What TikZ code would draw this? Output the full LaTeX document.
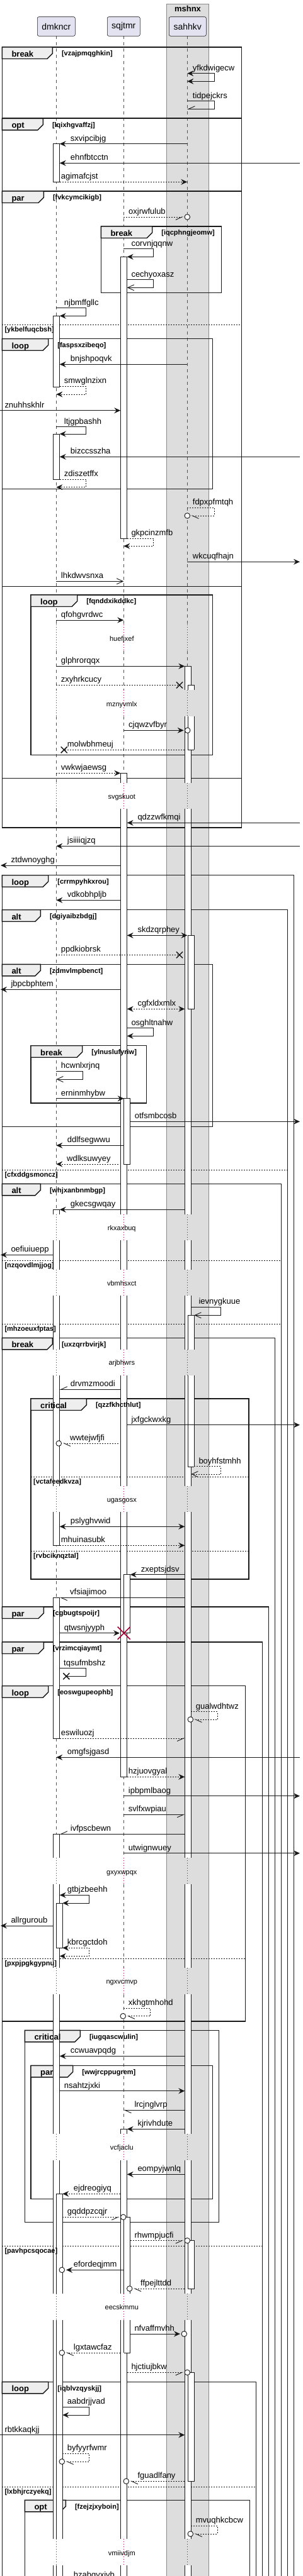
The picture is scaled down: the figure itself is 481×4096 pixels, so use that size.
\documentclass[tikz,border=0pt]{standalone}
\usepackage{fontspec}
\setmainfont{Liberation Sans}
\usetikzlibrary{arrows.meta}
\pgfdeclarelayer{band}
\pgfdeclarelayer{life}
\pgfdeclarelayer{frames}
\pgfdeclarelayer{bars}
\pgfsetlayers{band,life,frames,bars,main}
\definecolor{ink}{HTML}{181818}
\definecolor{partfill}{HTML}{E2E2F0}
\definecolor{tabfill}{HTML}{EEEEEE}
\definecolor{boxfill}{HTML}{DDDDDD}
\definecolor{boxline}{HTML}{8A8A8A}
\definecolor{delayred}{HTML}{A80036}
\tikzset{
 part/.style={draw=ink,fill=partfill,line width=0.6pt,rounded corners=2.5pt,minimum height=30.6pt,inner sep=0pt,font=\fontsize{14}{16}\selectfont},
 boxt/.style={anchor=base,inner sep=0pt,font=\bfseries\fontsize{13}{15}\selectfont},
 lifel/.style={draw=ink!75,line width=0.7pt,dash pattern=on 5pt off 5pt},
 delayl/.style={draw=delayred,line width=0.8pt,dash pattern=on 1pt off 3pt},
 frm/.style={draw=ink,line width=1.4pt},
 sepl/.style={draw=ink,line width=0.8pt,dash pattern=on 2pt off 2pt},
 tabl/.style={anchor=base west,inner sep=0pt,font=\bfseries\fontsize{13}{15}\selectfont},
 condl/.style={anchor=base west,inner sep=0pt,font=\bfseries\fontsize{11}{13}\selectfont},
 dly/.style={anchor=base,inner sep=0pt,font=\fontsize{11}{13}\selectfont},
 lbl/.style={anchor=base west,inner sep=0pt,font=\fontsize{13}{15}\selectfont},
 actl/.style={draw=ink,line width=0.9pt},
 circ/.style={circle,draw=ink,fill=white,line width=0.9pt,minimum size=8.6pt,inner sep=0pt},
 xmk/.style={draw=ink,line width=1.5pt},
 msgline/.style={draw=ink,line width=0.9pt},
 dsh/.style={dash pattern=on 2pt off 2pt},
 fa/.style={-{Stealth[length=10pt,width=9pt,inset=3.5pt]}},
 ba/.style={{Stealth[length=10pt,width=9pt,inset=3.5pt]}-{Stealth[length=10pt,width=9pt,inset=3.5pt]}},
 oa/.style={-{Straight Barb[length=10pt,width=9pt]}},
 hL/.style={-{Straight Barb[harpoon,length=10pt,width=9pt]}},
 hR/.style={-{Straight Barb[harpoon,swap,length=10pt,width=9pt]}},
}
% message: name, x1, x2, y, style, label, label x
\newcommand\Msg[7]{%
 \coordinate (#1s) at (#2,#4);
 \coordinate (#1e) at (#3,#4);
 \draw[msgline,#5] (#1s) -- (#1e);
 \node[lbl] (#1l) at (#7,#4-4.5) {#6};}
% self message: name, xs, xr, yt, yb, xe, style, label, label x
\newcommand\Self[9]{%
 \coordinate (#1s) at (#2,#4);
 \coordinate (#1a) at (#3,#4);
 \coordinate (#1b) at (#3,#5);
 \coordinate (#1e) at (#6,#5);
 \draw[msgline,#7] (#1s) -- (#1a) -- (#1b) -- (#1e);
 \node[lbl] (#1l) at (#9,#4-4.5) {#8};}
\newcommand\Circ[3]{\node[circ] (#1) at (#2,#3) {};}
\newcommand\Xm[3]{\coordinate (#1) at (#2,#3);
 \draw[xmk] (#2-5,#3-5) -- (#2+5,#3+5) (#2-5,#3+5) -- (#2+5,#3-5);}
% activation bars
\newcommand\acO[4]{\begin{pgfonlayer}{bars}\fill[white] (#1,#3) rectangle (#2,#4);
 \draw[actl] (#1,#3) -- (#1,#4) (#2,#3) -- (#2,#4);\end{pgfonlayer}}
\newcommand\acT[4]{\acO{#1}{#2}{#3}{#4}\begin{pgfonlayer}{bars}\draw[actl] (#1,#3) -- (#2,#3);\end{pgfonlayer}}
\newcommand\acB[4]{\acO{#1}{#2}{#3}{#4}\begin{pgfonlayer}{bars}\draw[actl] (#1,#4) -- (#2,#4);\end{pgfonlayer}}
\newcommand\acC[4]{\begin{pgfonlayer}{bars}\filldraw[fill=white,actl] (#1,#3) rectangle (#2,#4);\end{pgfonlayer}}
% fragment: name, x1, y1, x2, y2, tab right, label, condition
\newcommand\Frag[8]{%
 \begin{pgfonlayer}{frames}
  \draw[frm] (#2,#3) rectangle (#4,#5);
  \filldraw[frm,fill=tabfill] (#2,#3) -- (#6,#3) -- (#6,#3+10) -- (#6-8.5,#3+18.5) -- (#2,#3+18.5) -- cycle;
 \end{pgfonlayer}
 \node[tabl] (#1t) at (#2+15,#3+15.5) {#7};
 \node[condl] (#1c) at (#6+14.5,#3+13.8) {#8};}
\newcommand\Sep[5]{%
 \begin{pgfonlayer}{frames}\draw[sepl] (#2,#4) -- (#3,#4);\end{pgfonlayer}
 \node[condl] (#1) at (#2+4,#4+11.5) {#5};}
\begin{document}
\begin{tikzpicture}[x=1pt,y=-1pt]
\useasboundingbox (0,0) rectangle (481,4096);
\begin{pgfonlayer}{band}
\filldraw[fill=boxfill,draw=boxline,line width=0.8pt] (264.3,6) rectangle (331.7,4110);
\end{pgfonlayer}
\node[boxt] (mshnx) at (298,18.3) {mshnx};
\node[part,minimum width=60pt] (dmkncr) at (89.3,42) {dmkncr};
\node[part,minimum width=52pt] (sqjtmr) at (196.3,42) {sqjtmr};
\node[part,minimum width=59pt] (sahhkv) at (297.8,42) {sahhkv};
% lifelines
\begin{pgfonlayer}{life}
\foreach \lx in {89.3,196.3,297.3}{
 \foreach \a/\b in {57.3/993,1035/1097.3,1139/1245,1285.7/1931,1972.3/2019.3,2060/2145.7,2186.7/2362.7,2404/2954.3,2996/3129.3,3171/3393.3,3435/3647.3,3689.3/4037.3,4079/4110}{\draw[lifel] (\lx,\a) -- (\lx,\b);}
 \foreach \a/\b in {993/1035,1097.3/1139,1245/1285.7,1931/1972.3,2019.3/2060,2145.7/2186.7,2362.7/2404,2954.3/2996,3129.3/3171,3393.3/3435,3647.3/3689.3,4037.3/4079}{\draw[delayl] (\lx,\a) -- (\lx,\b);}
}
\end{pgfonlayer}
% delay texts
\node[dly] (d1) at (193.3,1019.5) {huefjxef};
\node[dly] (d2) at (193.3,1123.1) {mznyvmlx};
\node[dly] (d3) at (193.3,1270.5) {svgskuot};
\node[dly] (d4) at (193.3,1956.1) {rkxaxbuq};
\node[dly] (d5) at (193.3,2044.3) {vbmhsxct};
\node[dly] (d6) at (193.3,2170.8) {arjbhwrs};
\node[dly] (d7) at (193.3,2388.1) {ugasgosx};
\node[dly] (d8) at (193.3,2980.5) {gxyxwpqx};
\node[dly] (d9) at (193.3,3154.8) {ngxvcmvp};
\node[dly] (d10) at (193.3,3418.8) {vcfjaclu};
\node[dly] (d11) at (193.3,3672.8) {eecskmmu};
\node[dly] (d12) at (193.3,4063.1) {vmiivdjm};
% fragments
\Frag{f1}{3.3}{75}{383.3}{187.7}{83.3}{break}{[vzajpmqghkin]}
\Frag{f2}{3.3}{188.3}{383.3}{304}{68.3}{opt}{[lqixhgvaffzj]}
\Frag{f3}{3.3}{304}{383.3}{932.7}{69.3}{par}{[fvkcymcikigb]}
\Sep{s1}{3.3}{383.3}{516.3}{[ykbelfuqcbsh]}
\Frag{f3a}{160.3}{360}{351.7}{465.7}{241.7}{break}{[iqcphngjeomw]}
\Frag{f3b}{3.3}{538.7}{337.7}{777.3}{76.7}{loop}{[faspsxzibeqo]}
\begin{pgfonlayer}{frames}
\draw[frm] (3.3,932.7) rectangle (383.3,1237.3);
\draw[frm] (3.3,1237.3) rectangle (383.3,1316);
\end{pgfonlayer}
\Frag{f4a}{49}{946}{337.7}{1200.3}{122.7}{loop}{[fqnddxikddkc]}
\Frag{f6}{3.3}{1391.7}{466.7}{4110}{76.7}{loop}{[crrmpyhkxrou]}
\Frag{f6a}{3.3}{1446.7}{456.7}{4110}{64.3}{alt}{[dgiyaibzbdgj]}
\Sep{s2}{3.3}{456.7}{1860.3}{[cfxddgsmoncz]}
\Frag{f6b}{3.3}{1533.3}{337.7}{1791.7}{64.3}{alt}{[zdmvlmpbenct]}
\Frag{f6c}{49}{1662.7}{232.3}{1754}{130.7}{break}{[ylnuslufyriw]}
\Frag{f7}{3.3}{1882.3}{446.7}{4110}{64.3}{alt}{[whjxanbnmbgp]}
\Sep{s3}{3.3}{446.7}{2004.3}{[nzqovdlmjjog]}
\Sep{s4}{3.3}{446.7}{2105.3}{[mhzoeuxfptas]}
\Frag{f8}{3.3}{2127.3}{436.7}{4110}{83.3}{break}{[uxzqrrbvirjk]}
\Frag{f8a}{49}{2224}{395}{2511}{137.3}{critical}{[qzzfkhcthlut]}
\Sep{s5}{49}{395}{2348.3}{[vctafeedkvza]}
\Sep{s6}{49}{395}{2466.3}{[rvbciknqztal]}
\Frag{f9}{3.3}{2555}{426.7}{4110}{69.3}{par}{[cgbugtspoijr]}
\Frag{f10}{3.3}{2611}{416.7}{4110}{69.3}{par}{[vrzimcqiaymt]}
\Sep{s7}{3.3}{416.7}{3571.3}{[pavhpcsqocae]}
\Frag{f11}{3.3}{2680.7}{389.3}{3214}{76.7}{loop}{[eoswgupeophb]}
\Sep{s8}{3.3}{389.3}{3114}{[pxpjpgkgypnu]}
\Frag{f12}{39.3}{3228.3}{347.7}{3533.3}{127.3}{critical}{[iugqascwulin]}
\Frag{f12a}{49}{3284.3}{337.7}{3496.7}{115.7}{par}{[wwjrcppugrem]}
\Frag{f13}{3.3}{3787.3}{406.7}{4110}{76.7}{loop}{[iqblvzqyskjj]}
\Sep{s9}{3.3}{406.7}{3954.3}{[lxbhjrczyekq]}
\Frag{f14}{39.3}{3975.3}{396.7}{4110}{104.3}{opt}{[fzejzjxyboin]}
% activation bars: dmkncr
\acC{84.3}{94.7}{228.7}{289.3}
\acC{84.3}{94.7}{502.3}{615.3}
\acC{84.3}{94.7}{690}{762}
\acT{84.3}{94.7}{1923.3}{1931}
\acO{84.3}{94.7}{1972.3}{2019.3}
\acO{84.3}{94.7}{2060}{2145.7}
\acO{84.3}{94.7}{2186.7}{2362.7}
\acB{84.3}{94.7}{2404}{2457.3}
\acC{84.3}{94.7}{2540.3}{2764}
\acT{84.3}{94.7}{2916.3}{2954.3}
\acO{84.3}{94.7}{2996}{3129.3}
\acO{84.3}{94.7}{3171}{3393.3}
\acO{84.3}{94.7}{3435}{3647.3}
\acO{84.3}{94.7}{3689.3}{4037.3}
\acO{84.3}{94.7}{4079}{4110}
\acC{89.3}{99.3}{3026}{3097.7}
\acT{89.3}{99.3}{3488.3}{3647.3}
\acO{89.3}{99.3}{3689.3}{4037.3}
\acO{89.3}{99.3}{4079}{4110}
% sqjtmr
\acC{191.3}{201.7}{408.3}{856}
\acT{191.3}{201.7}{1229.3}{1245}
\acO{191.3}{201.7}{1285.7}{1931}
\acO{191.3}{201.7}{1972.3}{2019.3}
\acO{191.3}{201.7}{2060}{2145.7}
\acO{191.3}{201.7}{2186.7}{2362.7}
\acB{191.3}{201.7}{2404}{2825.3}
\acT{191.3}{201.7}{3385.3}{3393.3}
\acO{191.3}{201.7}{3435}{3647.3}
\acO{191.3}{201.7}{3689.3}{4037.3}
\acO{191.3}{201.7}{4079}{4110}
\acC{196.7}{206.7}{1746.7}{1851}
\acC{196.7}{206.7}{2503.7}{2596.7}
\acT{196.7}{206.7}{3525.3}{3647.3}
\acB{196.7}{206.7}{3689.3}{3741}
% sahhkv
\acT{293.3}{303.3}{1059.3}{1097.3}
\acO{293.3}{303.3}{1139}{1245}
\acO{293.3}{303.3}{1285.7}{1931}
\acO{293.3}{303.3}{1972.3}{2019.3}
\acO{293.3}{303.3}{2060}{2145.7}
\acO{293.3}{303.3}{2186.7}{2362.7}
\acO{293.3}{303.3}{2404}{2954.3}
\acO{293.3}{303.3}{2996}{3129.3}
\acO{293.3}{303.3}{3171}{3393.3}
\acO{293.3}{303.3}{3435}{3647.3}
\acO{293.3}{303.3}{3689.3}{4037.3}
\acO{293.3}{303.3}{4079}{4110}
\acT{298.3}{308.3}{1089.3}{1097.3}
\acB{298.3}{308.3}{1139}{1192.3}
\acC{298.3}{308.3}{1487.3}{1604.3}
\acT{298.3}{308.3}{2091.3}{2145.7}
\acB{298.3}{308.3}{2186.7}{2332.3}
\acC{298.3}{308.3}{3562.7}{3639.3}
\acC{298.3}{308.3}{3772.3}{3945.3}
% messages
\Self{m1}{297.3}{340.3}{116.7}{129.3}{297.3}{ba}{yfkdwigecw}{305.7}
\Self{m2}{297.3}{340.3}{160.7}{173.3}{297.3}{hR}{tidpejckrs}{305.7}
\Msg{m3}{297.3}{94.7}{228.7}{fa}{sxvipcibjg}{111.7}
\Msg{m4}{476}{94.7}{259.3}{fa}{ehnfbtcctn}{111.7}
\Msg{m5}{94.7}{297.3}{289.3}{fa,dsh}{agimafcjst}{96.7}
\Msg{m6}{196.3}{291}{345}{hR,dsh}{oxjrwfulub}{204}
\Circ{m6c}{297.3}{345}
\Self{m7}{196.3}{243.7}{395.7}{408.3}{201.7}{fa}{corvnjqqnw}{208.3}
\Self{m8}{201.7}{243.7}{444.7}{457.3}{201.7}{oa}{cechyoxasz}{208.3}
\Self{m9}{89.3}{136.3}{489.7}{502.3}{94.7}{fa}{njbmffgllc}{101.7}
\Msg{m10}{297.3}{94.7}{579.3}{fa}{bnjshpoqvk}{111.7}
\Self{m11}{94.7}{136.3}{614.3}{627}{89.3}{fa,dsh}{smwglnzixn}{101.7}
\Msg{m12}{0}{191.3}{652.7}{fa}{znuhhskhlr}{7.3}
\Self{m13}{89.3}{136.3}{678.7}{690}{94.7}{fa}{ltjgpbashh}{101.7}
\Msg{m14}{476}{94.7}{726.3}{fa}{bizccsszha}{111.7}
\Self{m15}{94.7}{136.3}{762}{774.7}{89.3}{fa,dsh}{zdiszetffx}{101.7}
\Self{m16}{297.3}{340.3}{807.3}{820}{303.3}{hL,dsh}{fdpxpfmtqh}{305.7}
\Circ{m16c}{297.3}{820}
\Self{m17}{201.7}{243.7}{856}{868.3}{196.3}{fa,dsh}{gkpcinzmfb}{208.3}
\Msg{m18}{297.3}{476}{893.3}{fa}{wkcuqfhajn}{305.7}
\Msg{m19}{89.3}{196.3}{924.3}{oa}{lhkdwvsnxa}{96.7}
\Msg{m20}{89.3}{196.3}{986}{fa}{qfohgvrdwc}{96.7}
\Msg{m21}{89.3}{293.3}{1059.3}{fa}{glphrorqqx}{96.7}
\Msg{m22}{89.3}{285}{1089.3}{dsh}{zxyhrkcucy}{96.7}
\Xm{m22x}{285}{1089.3}
\Msg{m23}{196.3}{291.7}{1161.3}{fa}{cjqwzvfbyr}{204}
\Circ{m23c}{297.7}{1161.3}
\Msg{m24}{293.3}{101.7}{1192.3}{dsh}{molwbhmeuj}{106.7}
\Xm{m24x}{101.7}{1192.3}
\Msg{m25}{89.3}{191.3}{1229.3}{fa,dsh}{vwkwjaewsg}{96.7}
\Msg{m26}{476}{201.7}{1308.3}{fa}{qdzzwfkmqi}{218.3}
\Msg{m27}{476}{89.3}{1345.3}{fa}{jsiiiiqjzq}{106.7}
\Msg{m28}{191.3}{1}{1376}{fa}{ztdwnoyghg}{17.3}
\Msg{m29}{191.3}{89.3}{1431.3}{fa}{vdkobhpljb}{106.7}
\Msg{m30}{201.7}{297.5}{1487.3}{ba}{skdzqrphey}{218.3}
\Msg{m31}{89.3}{285}{1518.3}{dsh}{ppdkiobrsk}{96.7}
\Xm{m31x}{285}{1518.3}
\Msg{m32}{191.3}{1}{1573.3}{fa}{jbpcbphtem}{17.3}
\Msg{m33}{201.7}{293.3}{1604.3}{ba,dsh}{cgfxldxmlx}{218.3}
\Self{m34}{201.7}{243.7}{1634.7}{1647.3}{201.7}{fa}{osghltnahw}{208.3}
\Self{m35}{89.3}{131.7}{1703.3}{1716}{89.3}{oa}{hcwnlxrjnq}{96.7}
\Msg{m36}{89.3}{196.7}{1746.7}{fa}{erninmhybw}{96.7}
\Msg{m37}{206.7}{476}{1783.3}{fa}{otfsmbcosb}{213.7}
\Msg{m38}{196.7}{89.3}{1821.3}{fa}{ddlfsegwwu}{106.7}
\Msg{m39}{188.3}{89.3}{1851}{fa,dsh}{wdlksuwyey}{106}
\Msg{m40}{293.3}{94.7}{1923.3}{fa}{gkecsgwqay}{111.7}
\Msg{m41}{84.3}{1}{1995.3}{fa}{oefiuiuepp}{17.3}
\Self{m42}{303.3}{350.3}{2078.3}{2091.3}{308.3}{oa}{ievnygkuue}{315.3}
\Msg{m43}{191.3}{94.7}{2209.3}{hR}{drvmzmoodi}{111.7}
\Msg{m44}{201.7}{476}{2265.7}{fa}{jxfgckwxkg}{208.3}
\Msg{m45}{188.3}{99.8}{2295}{hL,dsh}{wwtejwfjfi}{111}
\Circ{m45c}{93.3}{2295}
\Self{m46}{308.3}{350.3}{2331.7}{2344}{303.3}{oa,dsh}{boyhfstmhh}{315.3}
\Msg{m47}{94.7}{293.3}{2427.3}{ba}{pslyghvwid}{111.7}
\Msg{m48}{94.7}{293.3}{2457.3}{fa,dsh}{mhuinasubk}{96.7}
\Msg{m49}{293.3}{206.7}{2503.7}{fa}{zxeptsjdsv}{223.7}
\Msg{m50}{293.3}{94.7}{2540.3}{hL}{vfsiajimoo}{111}
\Msg{m51}{94.7}{190}{2596.7}{fa}{qtwsnjyyph}{101.7}
\coordinate (m51x) at (196.7,2596.7);
\draw[xmk,draw=delayred,line width=1.6pt] (186.7,2586.7) -- (206.7,2606.7) (186.7,2606.7) -- (206.7,2586.7);
\Self{m52}{94.7}{136.3}{2652.7}{2665.3}{105.3}{}{tqsufmbshz}{101}
\Xm{m52x}{105.3}{2665.3}
\Self{m53}{303.3}{345.3}{2721.7}{2734}{308.3}{hL,dsh}{gualwdhtwz}{310.7}
\Circ{m53c}{302.3}{2734}
\Msg{m54}{94.7}{293.3}{2764}{hR,dsh}{eswiluozj}{96.7}
\Msg{m55}{476}{89.3}{2794.3}{fa}{omgfsjgasd}{106.7}
\Msg{m56}{201.7}{293.3}{2825.3}{fa,dsh}{hzjuovgyal}{203.7}
\Msg{m57}{196.3}{476}{2855.7}{fa}{ipbpmlbaog}{203.7}
\Msg{m58}{196.3}{293.3}{2885.3}{hR}{svlfxwpiau}{203.7}
\Msg{m59}{293.3}{94.7}{2916.3}{hR}{ivfpscbewn}{111.7}
\Msg{m60}{196.3}{476}{2946.7}{fa}{utwignwuey}{203.7}
\Self{m61}{94.7}{141.7}{3013.3}{3026}{99.3}{ba}{gtbjzbeehh}{106.7}
\Msg{m62}{84.3}{1}{3062}{fa}{allrguroub}{17.3}
\Self{m63}{99.3}{141.7}{3097.3}{3110.3}{94.7}{ba,dsh}{kbrcgctdoh}{106.7}
\Self{m64}{196.3}{238.7}{3193.3}{3205.7}{201.8}{hL,dsh}{xkhgtmhohd}{203.7}
\Circ{m64c}{195.3}{3205.7}
\Msg{m65}{293.3}{94.7}{3269.3}{fa}{ccwuavpqdg}{111.7}
\Msg{m66}{94.7}{293.3}{3324.7}{fa}{nsahtzjxki}{101.7}
\Msg{m67}{293.3}{196.3}{3355.3}{hL}{lrcjnglvrp}{213.3}
\Msg{m68}{293.3}{201.7}{3385.3}{fa}{kjrivhdute}{218.3}
\Msg{m69}{293.3}{201.7}{3457.3}{fa}{eompyjwnlq}{218.3}
\Msg{m70}{191.3}{99.3}{3488.3}{fa,dsh}{ejdreogiyq}{116.7}
\Msg{m71}{99.3}{189.5}{3525.3}{hR,dsh}{gqddpzcqjr}{106.7}
\Circ{m71c}{195.7}{3525.3}
\Msg{m72}{206.7}{290.8}{3562.7}{hR,dsh}{rhwmpjucfi}{213.3}
\Circ{m72c}{297.3}{3562.7}
\Msg{m73}{196.7}{105}{3609.3}{fa}{efordeqjmm}{116.7}
\Circ{m73c}{98.3}{3609.3}
\Msg{m74}{293.3}{212}{3639}{hL,dsh}{ffpejlttdd}{223}
\Circ{m74c}{205.7}{3639}
\Msg{m75}{206.7}{286}{3711}{fa}{nfvaffmvhh}{213.3}
\Circ{m75c}{292.3}{3711}
\Msg{m76}{191.3}{104.6}{3741}{hL,dsh}{lgxtawcfaz}{116.7}
\Circ{m76c}{98.3}{3741}
\Msg{m77}{201.7}{290.8}{3772.3}{hR,dsh}{hjctiujbkw}{208.3}
\Circ{m77c}{297.3}{3772.3}
\Self{m78}{99.3}{141.7}{3827.3}{3840}{99.3}{fa}{aabdrjjvad}{106.7}
\Msg{m79}{0}{293.3}{3871.7}{fa}{rbtkkaqkjj}{7.3}
\Self{m80}{99.3}{141.7}{3901.3}{3914}{104.6}{hL,dsh}{byfyyrfwmr}{106.7}
\Circ{m80c}{98.3}{3914}
\Msg{m81}{293.3}{206.8}{3945.3}{hL,dsh}{fguadlfany}{218.3}
\Circ{m81c}{200.3}{3945.3}
\Self{m82}{303.3}{345.3}{4016.3}{4029}{308.6}{hL,dsh}{mvuqhkcbcw}{310.7}
\Circ{m82c}{302.3}{4029}
\node[lbl] (m83l) at (116.7,4098) {hzabgvxjvb};
\end{tikzpicture}
\end{document}
